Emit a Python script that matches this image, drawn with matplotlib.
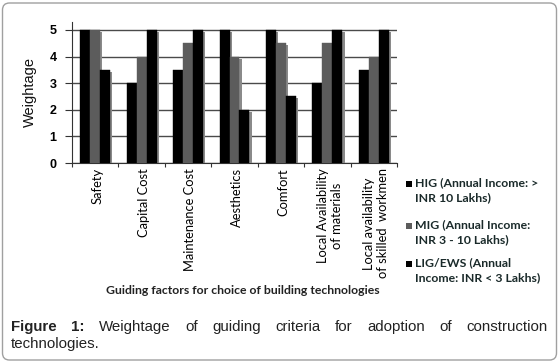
import matplotlib
matplotlib.use("Agg")
import matplotlib.pyplot as plt
import matplotlib.patches as mpatches
import matplotlib.patheffects as pe
import numpy as np

categories = ["Safety", "Capital Cost", "Maintenance Cost", "Aesthetics", "Comfort",
              "Local Availability\nof materials", "Local availability\nof skilled  workmen"]
hig = [5, 3, 3.5, 5, 5, 3, 3.5]
mig = [5, 4, 4.5, 4, 4.5, 4.5, 4]
lig = [3.5, 5, 5, 2, 2.5, 5, 5]
series_labels = ["HIG (Annual Income: >\nINR 10 Lakhs)",
                 "MIG (Annual Income:\nINR 3 - 10 Lakhs)",
                 "LIG/EWS (Annual\nIncome: INR < 3 Lakhs)"]
series_colors = ["#000000", "#5c5c5c", "#000000"]
yticks = [0, 1, 2, 3, 4, 5]
xlabel = "Guiding factors for choice of building technologies"
ylabel = "Weightage"
caption_bold = ["Figure", "1:"]
caption_line1 = ["Weightage", "of", "guiding", "criteria", "for", "adoption", "of", "construction"]
caption_line2 = "technologies."

W, H = 560, 363
fig = plt.figure(figsize=(W / 100, H / 100), dpi=100)
fig.patch.set_facecolor("white")

def px(x, y):
    return x / W, 1 - y / H

ax_l, ax_r, ax_t, ax_b = 72, 397, 22, 163
ax = fig.add_axes([ax_l / W, 1 - ax_b / H, (ax_r - ax_l) / W, (ax_b - ax_t) / H])

n = len(categories)
x = np.arange(n)
bw = 0.215
shadow = [pe.SimplePatchShadow(offset=(1.6, -1.4), shadow_rgbFace="#8a8a8a", alpha=1.0), pe.Normal()]
for i, (vals, c) in enumerate(zip([hig, mig, lig], series_colors)):
    bars = ax.bar(x + (i - 1) * bw, vals, width=bw, color=c, edgecolor=c, linewidth=0.3, zorder=3)
    for b in bars:
        b.set_path_effects(shadow)

ax.set_xlim(-0.5, n - 0.5)
ax.set_ylim(0, 5.3)
ax.set_yticks(yticks)
ax.set_yticklabels([str(v) for v in yticks], fontweight="bold", fontsize=9,
                   family="Liberation Sans")
ax.yaxis.grid(True, color="#4a4a4a", linewidth=1.0, zorder=0)
ax.set_axisbelow(True)
for s in ["top", "right"]:
    ax.spines[s].set_visible(False)
ax.spines["left"].set_color("#333333")
ax.spines["bottom"].set_color("#333333")
ax.tick_params(axis="y", length=5, width=0.8, color="#333333", pad=6)
ax.set_xticks(np.arange(n + 1) - 0.5, minor=False)
ax.set_xticklabels([])
ax.tick_params(axis="x", length=3, width=0.8, color="#333333")
for xi, lab in zip(x, categories):
    ax.text(xi + 0.05, -0.2, lab, rotation=90, ha="center", va="top",
            multialignment="center", fontsize=9.3, family="Lato", color="#000000",
            transform=ax.transData, clip_on=False)

fig.text(*px(30, 92), ylabel, rotation=90, ha="center", va="center", fontsize=10.5,
         family="Liberation Sans", color="#111111")
fig.text(*px(243, 290), xlabel, ha="center", va="center", fontsize=8.8, family="Lato",
         fontweight="bold", color="#222222")

# legend
leg_y = [183, 225, 263]
for ly, lab, c in zip(leg_y, series_labels, series_colors):
    sx, sy = px(406, ly + 4)
    fig.patches.append(mpatches.Rectangle((sx, sy), 6 / W, 6 / H, transform=fig.transFigure,
                                          facecolor=c, edgecolor=c, lw=0))
    fig.text(*px(415, ly - 6), lab, ha="left", va="top", fontsize=8.8, family="Lato",
             fontweight="bold", color="#1a2a2a", linespacing=1.45)

# outer rounded frame
fig.patches.append(mpatches.FancyBboxPatch((0.025, 0.03), 5.54, 3.57,
                                           boxstyle="round,pad=0,rounding_size=0.07",
                                           transform=fig.dpi_scale_trans, facecolor="none",
                                           edgecolor="#a0a0a0", lw=1.0))

# justified caption
renderer = fig.canvas.get_renderer()
words = [(w, "bold") for w in caption_bold] + [(w, "normal") for w in caption_line1]
texts = []
fs_cap = 10.8
for w, fw in words:
    t = fig.text(0, 0, w, fontsize=fs_cap, family="Liberation Sans", fontweight=fw,
                 color="#222222", ha="left", va="center")
    texts.append(t)
widths = [t.get_window_extent(renderer).width for t in texts]
x0, x1 = 11, 548
gap = ((x1 - x0) - sum(widths)) / (len(widths) - 1)
cx = x0
for t, wdt in zip(texts, widths):
    t.set_position(px(cx, 327))
    cx += wdt + gap
fig.text(*px(11, 344), caption_line2, fontsize=fs_cap, family="Liberation Sans",
         color="#222222", ha="left", va="center")

fig.savefig("out.png", dpi=100)
